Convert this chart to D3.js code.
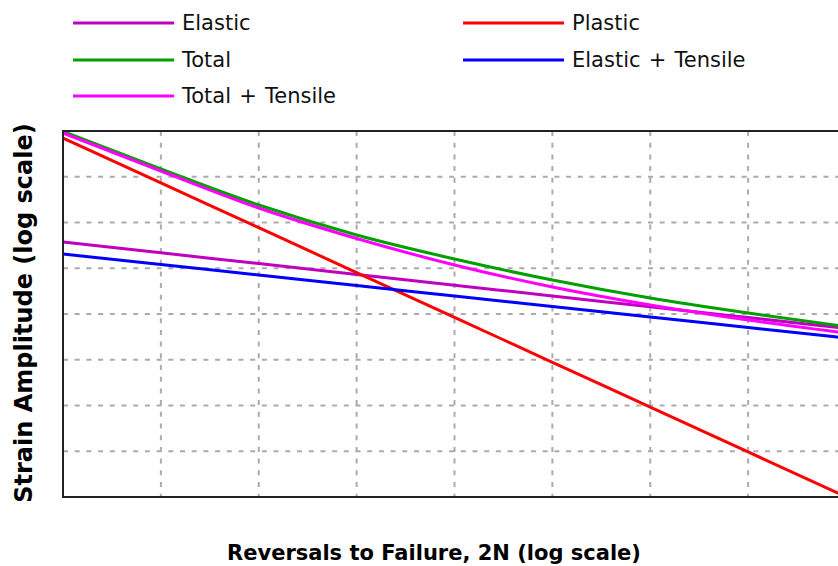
<!DOCTYPE html>
<html>
<head>
<meta charset="utf-8">
<script src="https://cdn.jsdelivr.net/npm/d3@7"></script>
<style>
  html, body { margin: 0; padding: 0; background: #fff; }
  svg { display: block; }
</style>
</head>
<body>
<script>
// ---- Data ----
const reversals = [1, 10, 100, 1e3, 1e4, 1e5, 1e6, 1e7, 1e8];
const elastic        = [0.01231, 0.01004, 0.008187, 0.006677, 0.005446, 0.004441, 0.003623, 0.002955, 0.002410];
const plastic        = [0.0876, 0.03755, 0.01612, 0.00691, 0.00297, 0.00127, 0.000546, 0.000234, 0.0001004];
const total          = [0.09906, 0.04881, 0.02474, 0.01405, 0.008929, 0.006008, 0.004277, 0.003222, 0.002498];
const elasticTensile = [0.00981, 0.00804, 0.00660, 0.00541, 0.00444, 0.003643, 0.002988, 0.002450, 0.002010];
const totalTensile   = [0.09629, 0.04700, 0.02338, 0.01315, 0.007973, 0.005264, 0.003748, 0.002823, 0.002210];

const seriesNames  = ["Elastic", "Plastic", "Total", "Elastic + Tensile", "Total + Tensile"];
const seriesValues = [elastic, plastic, total, elasticTensile, totalTensile];
const seriesColors = ["#c000c0", "#ff0000", "#00a000", "#0000ff", "#ff00ff"];

const xDomain = [1, 1e8];
const yDomain = [1e-4, 1e-1];
const xGridTicks = [10, 100, 1e3, 1e4, 1e5, 1e6, 1e7];
const yGridCount = 8;

const xTitle = "Reversals to Failure, 2N (log scale)";
const yTitle = "Strain Amplitude (log scale)";

// ---- Layout ----
const W = 838, H = 566;
const plot = { left: 63, top: 131, right: 846, bottom: 497 };

const svg = d3.select("body").append("svg")
  .attr("width", W).attr("height", H)
  .attr("viewBox", `0 0 ${W} ${H}`);

const x = d3.scaleLog().domain(xDomain).range([plot.left, plot.right]);
const y = d3.scaleLog().domain(yDomain).range([plot.bottom, plot.top]);

const yLogSpan = Math.log10(yDomain[1]) - Math.log10(yDomain[0]);
const yGridTicks = d3.range(1, yGridCount).map(i => Math.pow(10, Math.log10(yDomain[0]) + i * yLogSpan / yGridCount));

// Grid
const grid = svg.append("g").attr("stroke", "#ababab").attr("stroke-width", 2)
  .attr("stroke-dasharray", "5,6.7").attr("fill", "none");
grid.selectAll("line.vx").data(xGridTicks).join("line")
  .attr("x1", d => x(d)).attr("x2", d => x(d))
  .attr("y1", plot.top).attr("y2", plot.bottom);
grid.selectAll("line.hy").data(yGridTicks).join("line")
  .attr("y1", d => y(d)).attr("y2", d => y(d))
  .attr("x1", plot.left).attr("x2", plot.right);

// Series lines
const line = d3.line()
  .x((d, i) => x(reversals[i]))
  .y(d => y(d))
  .curve(d3.curveMonotoneX);

svg.append("g").selectAll("path").data(seriesValues).join("path")
  .attr("fill", "none")
  .attr("stroke", (d, i) => seriesColors[i])
  .attr("stroke-width", 3)
  .attr("d", d => line(d));

// Frame: left, top, bottom
const frame = svg.append("g").attr("stroke", "#222").attr("stroke-width", 2).attr("fill", "none");
frame.append("line").attr("x1", plot.left).attr("x2", plot.left).attr("y1", plot.top).attr("y2", plot.bottom);
frame.append("line").attr("x1", plot.left - 1).attr("x2", plot.right).attr("y1", plot.top).attr("y2", plot.top);
frame.append("line").attr("x1", plot.left - 1).attr("x2", plot.right).attr("y1", plot.bottom).attr("y2", plot.bottom);

// Legend
const legendPos = [
  { lx: 73, ly: 23 },   // Elastic
  { lx: 463, ly: 23 },  // Plastic
  { lx: 73, ly: 60 },   // Total
  { lx: 463, ly: 60 },  // Elastic + Tensile
  { lx: 73, ly: 96 }    // Total + Tensile
];
const legend = svg.append("g");
seriesNames.forEach((name, i) => {
  const p = legendPos[i];
  legend.append("line")
    .attr("x1", p.lx).attr("x2", p.lx + 101)
    .attr("y1", p.ly).attr("y2", p.ly)
    .attr("stroke", seriesColors[i]).attr("stroke-width", 3);
  legend.append("text")
    .attr("x", p.lx + 109).attr("y", p.ly + 7)
    .attr("font-family", "DejaVu Sans, Verdana, sans-serif")
    .attr("font-size", 21).attr("word-spacing", 1.5).attr("fill", "#111")
    .text(name);
});

// Axis titles
svg.append("text")
  .attr("x", 434).attr("y", 560)
  .attr("text-anchor", "middle")
  .attr("font-family", "DejaVu Sans, Verdana, sans-serif")
  .attr("font-weight", "bold").attr("font-size", 21).attr("fill", "#000")
  .text(xTitle);

svg.append("text")
  .attr("transform", `translate(32, ${313}) rotate(-90)`)
  .attr("text-anchor", "middle")
  .attr("font-family", "DejaVu Sans, Verdana, sans-serif")
  .attr("font-weight", "bold").attr("font-size", 24).attr("fill", "#000")
  .text(yTitle);
</script>
</body>
</html>
